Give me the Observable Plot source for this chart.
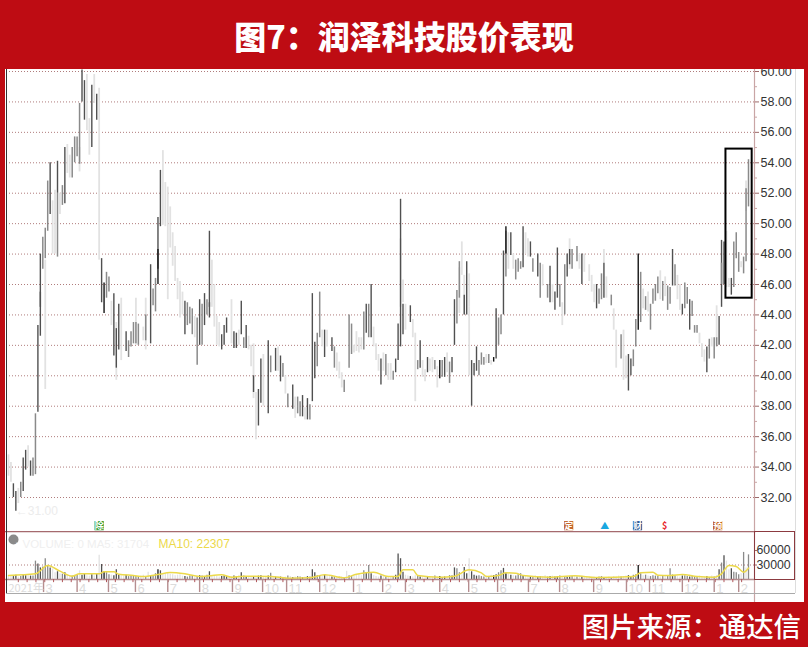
<!DOCTYPE html>
<html lang="zh">
<head>
<meta charset="utf-8">
<script src="https://cdn.jsdelivr.net/npm/d3@7"></script>
<script src="https://cdn.jsdelivr.net/npm/@observablehq/plot@0.6"></script>
<style>
  html,body{margin:0;padding:0;background:#fff;}
  #page{position:relative;width:808px;height:647px;overflow:hidden;background:#fff;font-family:"Liberation Sans",sans-serif;}
  #page svg{display:block;}
  .band{background:#BE0C13;color:#fff;font-family:"Noto Sans CJK SC",sans-serif;}
  #head{height:69px;line-height:71px;text-align:center;font-size:32px;font-weight:900;}
  #foot{height:45px;line-height:46px;text-align:right;font-size:27.4px;font-weight:500;padding-right:7px;box-sizing:border-box;}
  .deco{position:absolute;}
</style>
</head>
<body>
<div id="page">
  <div id="head" class="band">图7：润泽科技股价表现</div>
  <div id="main"></div>
  <div id="vol"></div>
  <div id="foot" class="band">图片来源：通达信</div>
  <div class="deco" style="left:0;top:0;width:5px;height:647px;background:#BE0C13"></div>
  <div class="deco" style="left:804px;top:0;width:4px;height:647px;background:#BE0C13"></div>
  <div class="deco" style="left:5.5px;top:69px;width:1.5px;height:524px;background:#333"></div>
  <div class="deco" style="left:795px;top:69px;width:1px;height:524px;background:#ddd"></div>
  <div class="deco" style="left:6px;top:592.5px;width:789px;height:1px;background:#aaa"></div>
  <div class="deco" style="left:754px;top:531px;width:39px;height:47px;border:1.5px solid #8c3a40"></div>
</div>
<script>
// Price bars: [session, low, high, tone]  tone 0 = faint, 1 = mid, 2 = dark, 3 = black
const bars2021a = [
[0,33.4,34.8,0],[1,33,34.3,0],[2,32,32.9,2],[3,31.1,32.4,2],[4,31.6,32.6,0],[5,32,33,1],[6,32.4,34.6,2],[7,33.8,35.1,2],[8,34,35.4,0],[9,33.4,34.4,2],
[10,33.4,34.6,1],[11,33.5,37.5,1],[12,37.6,43.3,2],[13,42.6,45.5,2],[13,44.5,48,2],[14,47,49.1,1],[15,39.1,47.6,0],[15,47.7,49.7,1],[16,49.5,52.8,1],[17,50.6,54,2],
[18,48,51.5,0],[19,48,52.2,0],[20,47.8,52,1],[20,52,54.1,2],[21,50.6,52,0],[22,51.2,52.5,1],[23,51.3,55,2],[24,53.3,55.2,0],[25,53,54.5,0],[26,53,55,1],
[27,54,55.7,1],[28,54.4,55.7,1],[29,53.9,57.9,1],[29,53.4,55,0],[30,58,60.1,2],[31,56.8,59.4,2],[32,56.1,59.8,0],[33,54.5,56.9,0],[34,55,59.1,2],[35,57.9,59.8,0],
[36,56.8,58.5,2],[37,47.6,58.9,0],[38,44.8,47.7,2],[39,44.1,46.1,3],[40,45.1,46.8,1],[41,45.5,46.5,1],[42,43.3,44.9,0],[43,41.3,45.4,2],[44,39.7,43.5,0],[44,40.5,43.1,2],
[45,41.7,44.7,2],[46,41,45.1,0],[48,41.6,42.9,2],[49,41.2,42.3,1],[50,41.9,42.9,1],[51,42.1,43.5,1],[52,42,45.1,0],[52,42.1,43.5,1],[53,42,43.4,1],[55,42.3,43.2,0],
[56,41.7,45.1,0],[56,42.3,44,1],[58,42.1,47.3,2],[59,44.6,45.7,1],[60,44.2,46.4,1],[61,47,50.4,2],[61,46,48.3,3],[62,49.8,53.5,2],[63,49.9,54.8,0],[64,49.8,52.7,0],
[65,45,52.4,0],[66,48.4,51.1,0],[67,47.2,49.4,0],[68,46.2,48.5,0],[69,45,46.4,0],[70,43.8,46.2,0],[71,44,45.5,0],[72,42.7,44.9,2],[73,43.3,44.8,1],[74,43.4,44.5,1]
];
const bars2021b = [
[75,42.7,44.4,1],[76,42.5,43.9,0],[77,40.7,43.8,1],[78,42,45,2],[79,42,44.7,1],[80,43.3,45.4,2],[81,44,45,1],[82,44.5,49.5,2],[82,43.8,44.8,2],[83,44.5,47.6,0],
[84,43.2,46,0],[85,42,43.9,0],[86,41.9,43.5,0],[87,41.7,42.7,2],[88,42,43.3,2],[89,42.8,43.8,2],[91,42.1,45,0],[92,41.8,42.9,2],[93,41.8,42.8,2],[94,42,43,0],
[95,42.7,44.9,2],[96,41.8,42.5,1],[97,41.8,43.3,2],[98,41.7,42.6,0],[99,40.6,42,0],[100,38.5,42.1,0],[100,38.9,40,2],[101,35.8,38.9,0],[102,36.7,39.1,2],[103,38.2,41.1,2],
[104,38,41.4,0],[106,37.5,42.3,2],[107,40.2,41.3,1],[109,40.3,41.8,2],[110,40.3,41.9,0],[111,39.6,41.3,2],[112,39.9,40.8,1],[113,38.8,40,0],[114,37.9,38.8,1],[116,37.8,39.4,2],
[117,37.2,38.6,0],[118,37.5,38.6,1],[119,37.3,38.3,1],[120,37.3,38.7,2],[121,37.1,37.9,0],[122,37.1,38.5,2],[123,37.1,38.1,1],[124,38.3,45.4,2],[125,39.8,42.2,2],[126,40.6,42.8,1],
[127,42.5,45.5,1],[128,41.9,43,0],[129,41.2,43,2],[130,41.9,43,0],[132,41.6,42.5,2],[133,40.5,41.9,1],[134,40.3,41.5,0],[135,39.8,40.9,0],[136,39.2,40.2,0],[137,38.9,39.7,1],
[139,40.5,44,1],[140,41.4,43.4,1],[141,41.5,42,0],[142,41.6,42.9,0],[143,41.5,42.5,0],[144,41.7,42.5,0],[145,41.7,44.2,1],[146,42.8,44.7,2],[147,42.5,44.7,1],[148,42.5,46,2],
[149,41.9,43.2,0]
];
const bars2022a = [
[150,41,42.1,0],[151,40.3,41.4,0],[152,39.4,41.1,2],[153,40.3,41.5,0],[154,40,41.4,1],[155,39.7,40.8,0],[156,39.7,40.8,0],[157,39.7,40.3,1],[158,40.2,41.1,2],[159,41,43.4,2],
[160,44.5,49,0],[160,41.9,51.6,2],[161,44.8,46.3,0],[161,42.7,44.7,2],[162,43,44.7,0],[164,43.5,44.6,2],[165,42.5,43.7,0],[166,38.3,42.8,0],[167,40.4,41,1],[168,40.5,42.3,2],
[169,39.9,41,0],[170,39.6,40.4,0],[171,40.2,41.2,2],[172,40.3,41.1,0],[173,40.2,41.2,0],[174,40.4,41,1],[175,39.2,40.6,0],[176,39.8,41,3],[177,39.9,41,1],[178,39.9,41.2,2],
[179,40.2,41.5,0],[180,39.5,40.9,1],[181,40.2,41.2,2],[182,42,45,2],[183,43.4,45.6,1],[184,44.1,47.1,0],[184,45.1,47.5,1],[185,46.6,48.8,0],[186,44,46.6,0],[186,44,45.3,2],
[187,44,47.5,2],[188,40,44.5,0],[188,44.5,46.7,0],[189,38,41,2],[190,40,40.8,2],[191,40.3,41.9,2],[192,40,41,1],[193,40.7,41.5,1],[194,40.7,41.2,1],[195,40.8,41.4,0],
[196,40.8,41.4,1],[197,40.7,41,0],[198,40.9,41.2,3],[199,41.1,44.4,2],[200,42,43.8,1],[201,42.7,44,1],[202,44,48.2,2],[203,46.5,49.5,1],[203,48,49.8,3],[204,47,49.4,0],
[205,47.9,49.4,2],[206,47,48,0],[207,46.3,47.6,1],[208,46.8,47.7,1],[209,47,47.5,1],[210,47.1,49.8,2],[211,48,49.4,0],[212,47.8,49,0],[213,47.8,48.8,2],[214,46.8,47.7,1],
[216,46.5,48,2],[217,45.1,47.4,1],[218,45.9,47.3,0],[220,45.1,46,1],[221,44.8,47.2,2],[222,44.8,46,0],[223,44.3,45.5,2],[224,45.1,48.4,2],[225,44.5,46,1]
];
const bars2022b = [
[226,43.3,44.8,0],[227,44,47.3,1],[228,46.5,48,2],[229,47,49,0],[229,47.3,48.3,2],[230,47,48.3,1],[232,47.5,48.5,1],[233,47,48,0],[234,46,48,2],[235,46.8,48,0],
[237,46.2,47.3,0],[238,45.5,46.6,0],[239,44.8,46,0],[240,44.4,46,2],[241,44.7,45.7,1],[242,45,46.7,1],[243,47.4,48.3,0],[243,45.1,47.4,2],[244,45.1,46.5,0],[246,44.6,45.3,1],
[247,43,44.4,0],[248,40.5,43,0],[250,41.1,42.7,1],[251,39.7,43,0],[252,39.8,41.3,0],[253,39,41.4,2],[254,40,41.1,2],[255,40.6,41.7,1],[256,41.9,43.7,1],[257,43,48,3],
[258,43.5,46.8,1],[259,44.4,45.7,0],[260,44.3,45.2,1],[261,44.2,45.5,0],[262,43,44.7,1],[263,44.7,45.7,1],[264,44.9,46,1],[265,45.4,46.5,1],[266,45,46.9,0],[267,44.9,46.2,1],
[268,45.2,46.5,0],[269,44.3,45.9,1],[270,44.7,45.8,1],[271,45.9,48.3,2],[272,45.9,47.3,1],[273,45,46.6,0],[274,44.3,46,0],[275,44,44.7,2],[276,44.4,46.1,1],[277,44.7,45.8,1],
[278,43,45,2],[279,43.9,44.9,1],[280,42.8,43.3,1],[281,42.8,43.3,1],[282,42.1,42.8,0],[283,41.2,42.1,0],[284,40.9,41.7,0],[285,40.2,41.9,2],[286,41.1,42.4,1],[287,41.9,42.5,0],
[288,41.1,42.5,1],[289,41.9,42.5,1],[289,42,44.6,0],[290,42,43.9,2],[291,44.5,48.9,2],[291,46,47.4,1],[292,46,48.8,2],[293,45.8,49.5,0],[294,45.8,46.4,0],[295,45.3,46.4,2],
[296,45.8,48.8,1],[297,47.7,49.4,1],[298,46.8,48.1,1],[299,47.1,47.5,0],[300,46.7,47.8,1],[301,47.5,52.3,1],[301,50.8,52.8,0],[302,51.1,54.2,1]
];
// Volume per session (thousands of lots)
const vol2021a = [6,7,6,9,5,6,9,8,8,7, 7,38,32,24,26,43,28,24,22,14, 16,12,11,14,10,8,7,6,9,18, 9,12,8,7,10,8,11,50,31,16, 14,10,9,8,20,10,8,7,9,6, 8,7,6,5,7,9,6,15,8,7, 12,20,18,10,12,14,11,10,8,9];
const vol2021b = [10,7,6,5,7,6,5,6,8,7, 6,9,16,7,8,6,5,6,7,6, 5,6,7,5,8,14,7,6,5,6, 5,6,7,8,6,5,7,13,6,5, 6,5,4,5,7,6,4,5,6,5, 4,5,6,5,20,14,8,7,6,10, 7,6,5,4,5,6,5,4,17,8, 6,7,9,10,8,18,14,29,12,8];
const vol2022a = [6,5,7,6,5,4,6,5,9,53, 43,15,9,7,6,5,8,6,5,6, 5,6,4,5,7,5,6,4,5,6, 8,7,24,22,14,10,25,12,43,16, 9,7,8,6,5,7,6,9,8,10, 14,18,23,12,11,9,8,7,10,12, 8,6,7,5,6,7,5,6,5,8, 5,6,7,5,6,7,5,6,4,5];
const vol2022b = [6,7,5,6,5,4,6,5,4,5, 4,5,6,4,3,5,4,6,5,7, 5,6,7,8,6,9,10,29,12,8, 9,7,6,8,7,6,5,7,6,8, 22,9,7,6,5,7,8,6,5,6, 5,6,7,4,5,6,4,7,5,8, 20,34,49,38,20,22,15,14,10,12, 56,24,51];
// MA10 of volume, read at its turning points
const maSessions = [0,11,16,21,26,29,37,39,43,45,51,55,61,66,72,78,87,91,96,107,114,123,129,137,142,149,155,159,161,165,167,176,182,188,193,195,200,203,207,210,221,231,240,255,258,263,265,270,275,281,288,291,294,297,300,302];
const maValues = [8280,11730,28980,17250,6900,11730,11730,15870,15870,11040,8280,6210,10350,14490,11730,6210,9660,4830,6900,6210,2760,3450,9660,3450,11040,15180,6210,6210,20010,20010,8280,4830,6900,20010,13800,6210,8280,13800,13110,8280,4830,7590,4140,6210,13800,15180,8970,8280,10350,6210,4830,11730,28980,26910,15180,23460];
// Month axis
const monthSessions = [14.3,28,40.8,51.8,65,78,91.4,103.7,113.5,127,140.8,152.7,162,176,187.8,199.6,212.2,224.9,238.8,252.2,261.6,275,288,298];
const monthLabels = ["3","4","5","6","7","8","9","10","11","12","1","2","3","4","5","6","7","8","9","10","11","12","1","2"];
const firstLabel = "2021年";
// Event markers
const eventSessions = [37,228.6,243.3,256.7,267.8,289.4];
const eventLabels = ["除","定","▲","财","$","预"];
const eventFills = ["#2e9a2e","#c4662c",null,"#2f5c96",null,"#c4662c"];
const eventTextColors = ["#fff","#fff","#19a7e0","#fff","#e8282c","#fff"];
const eventPrice = 30.15;
// Highlight box
const boxSessions = [292.8,303.5];
const boxPrices = [45.1,54.9];
const priceTicks = d3.range(32,61,2);
const priceMinorTicks = d3.range(33,60,2);
const volumeTicks = [30000,60000];
const lowPointLabel = "←31.00";
const volumeLegend = "VOLUME: 0 MA5: 31704";
const ma10Legend = "MA10: 22307";

const toneColors = ["#e2e2e2","#8a8a8a","#505050","#151515"];
const toneWidths = [1.8,1.5,1.4,1.4];
const gridColor = "#b07c7c";
const axisColor = "#c9a5a5";
const fontFamily = '"Liberation Sans",Arial,sans-serif';

const bars = [...bars2021a,...bars2021b,...bars2022a,...bars2022b]
  .map(([session,low,high,tone])=>({session,low,high,tone}));
// draw faint bars first so dark ones stay on top
const barsOrdered = d3.sort(bars,d=>d.tone===0?0:1);
const toneBySession = new Map(bars.map(d=>[d.session,d.tone]));
const volumes = [...vol2021a,...vol2021b,...vol2022a,...vol2022b]
  .map((v,i)=>({session:i,volume:v*1000,tone:toneBySession.get(i)??0}));
const volumesOrdered = d3.sort(volumes,d=>d.tone===0?0:1);
const ma = maSessions.map((s,i)=>({session:s,value:maValues[i]}));
const months = monthSessions.map((s,i)=>({session:s,label:monthLabels[i]}));
const events = eventSessions.map((s,i)=>({session:s,label:eventLabels[i],fill:eventFills[i],text:eventTextColors[i],price:eventPrice}));

const xOpts = {domain:[0,302],range:[8,748]};

const main = Plot.plot({
  width:808,height:462,
  marginTop:0,marginBottom:0,marginLeft:0,marginRight:54,
  style:{fontFamily,background:"transparent",overflow:"hidden"},
  x:{...xOpts,axis:null},
  y:{domain:[32,60],range:[428,2],axis:null},
  marks:[
    Plot.frame({anchor:"right",stroke:axisColor,strokeWidth:1.2}),
    Plot.ruleY(priceTicks,{stroke:gridColor,strokeWidth:1,strokeDasharray:"1,2"}),
    Plot.ruleX(barsOrdered,{x:"session",y1:"low",y2:"high",stroke:d=>toneColors[d.tone],strokeWidth:d=>toneWidths[d.tone]}),
    Plot.rect([0],{x1:()=>boxSessions[0],x2:()=>boxSessions[1],y1:()=>boxPrices[0],y2:()=>boxPrices[1],fill:"none",stroke:"#000",strokeWidth:2}),
    Plot.text([lowPointLabel],{x:()=>3,y:()=>31.1,textAnchor:"start",fill:"#ececec",fontSize:12}),
    Plot.dot(events.filter(d=>d.fill),{x:"session",y:"price",symbol:"square",r:5.2,fill:"fill"}),
    Plot.text(events,{x:"session",y:"price",text:"label",fill:"text",fontSize:9,fontFamily:'"Noto Sans CJK SC",sans-serif',fontWeight:700}),
    Plot.axisY({anchor:"right",ticks:priceMinorTicks,tickSize:2,tickFormat:()=>"",stroke:axisColor}),
    Plot.axisY({anchor:"right",ticks:priceTicks,tickSize:4,tickPadding:2,tickFormat:d=>d.toFixed(2),fontSize:12.5,fill:"#333",stroke:"#9c6a6a"})
  ]
});
document.getElementById("main").append(main);

const labelBand = -18600, monthBottom = -27000, minorBottom = -6500;
const vol = Plot.plot({
  width:808,height:71,
  marginTop:0,marginBottom:0,marginLeft:0,marginRight:54,
  style:{fontFamily,background:"transparent",overflow:"hidden"},
  x:{...xOpts,axis:null},
  y:{domain:[0,60000],range:[48,19],axis:null},
  marks:[
    Plot.frame({anchor:"top",stroke:"#a56a6e",strokeWidth:1.6}),
    Plot.frame({anchor:"right",stroke:axisColor,strokeWidth:1.2}),
    Plot.ruleY([30000],{stroke:gridColor,strokeDasharray:"1,2"}),
    Plot.ruleX(volumesOrdered,{x:"session",y1:0,y2:"volume",stroke:d=>toneColors[d.tone],strokeWidth:1.3}),
    Plot.line(ma,{x:"session",y:"value",stroke:"#ecd94a",strokeWidth:1.5,curve:"monotone-x"}),
    Plot.ruleY([0],{stroke:"#b58d8f",strokeWidth:1.5}),
    Plot.ruleX(d3.range(4,302,3.6),{y1:minorBottom,y2:0,stroke:"#b0575b",strokeWidth:1}),
    Plot.ruleX(months,{x:"session",y1:monthBottom,y2:0,stroke:"#b58d8f",strokeWidth:1.4}),
    Plot.text(months,{x:"session",y:()=>labelBand,text:"label",textAnchor:"start",dx:2,fill:"#dcdcdc",fontSize:13}),
    Plot.text([firstLabel],{x:()=>0,y:()=>labelBand,textAnchor:"start",fill:"#dcdcdc",fontSize:11,fontFamily:'"Noto Sans CJK SC",sans-serif'}),
    Plot.dot([0],{frameAnchor:"top-left",dx:13,dy:8,r:5,fill:"#8a8a8a"}),
    Plot.text(["⌄"],{frameAnchor:"top-left",dx:13,dy:6,fill:"#fff",fontSize:10}),
    Plot.text([volumeLegend],{frameAnchor:"top-left",dx:22,dy:8,textAnchor:"start",fill:"#efefef",fontSize:11.5}),
    Plot.text([ma10Legend],{frameAnchor:"top-left",dx:158,dy:8,textAnchor:"start",fill:"#ecd94a",fontSize:12}),
    Plot.axisY({anchor:"right",ticks:volumeTicks,tickSize:2,tickPadding:0,tickFormat:d=>String(d),fontSize:12.3,fill:"#333",stroke:"#9c6a6a"})
  ]
});
document.getElementById("vol").append(vol);
</script>
</body>
</html>
